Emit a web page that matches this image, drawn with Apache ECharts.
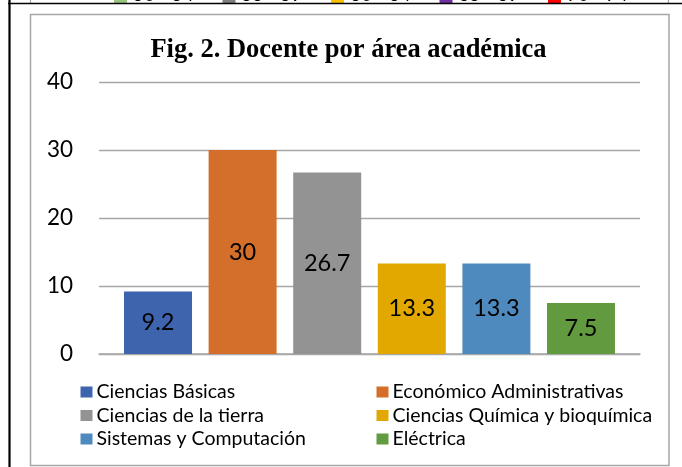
<!DOCTYPE html>
<html>
<head>
<meta charset="utf-8">
<script src="https://cdn.jsdelivr.net/npm/echarts@6/dist/echarts.min.js"></script>
<style>html,body{margin:0;padding:0;background:#fff;}#c{width:682px;height:467px;}</style>
</head>
<body>
<div id="c"></div>
<script>
// ---- data ----
const categories = ['Ciencias Básicas', 'Económico Administrativas', 'Ciencias de la tierra', 'Ciencias Química y bioquímica', 'Sistemas y Computación', 'Eléctrica'];
const values = [9.2, 30, 26.7, 13.3, 13.3, 7.5];
const yTicks = [0, 10, 20, 30, 40];
const titleText = 'Fig. 2. Docente por área académica';
// remnant of the previous figure's legend (cut off at the top)
const topLegendLabels = ['50 - 54', '55 - 59', '60 - 64', '65 - 69', '70 - 74'];

// ---- styles ----
const colors = ['#3E64AE', '#D46F2B', '#939393', '#E2A800', '#4F8ABE', '#629A3F'];
const topLegendColors = ['#9BC57E', '#7F7F7F', '#FFC000', '#7030A0', '#FF0000'];
const FONT = 'Lato, Carlito, "Open Sans", sans-serif';

const chart = echarts.init(document.getElementById('c'), null, {renderer: 'canvas'});

const series = categories.map((name, i) => ({
  name: name,
  type: 'bar',
  data: [values[i]],
  barWidth: 68,
  barGap: '24.4%',
  itemStyle: {color: colors[i]},
  label: {
    show: true,
    position: 'inside',
    color: '#000',
    fontFamily: FONT,
    fontSize: 23.5
  }
}));

const graphics = [
  // chart frame
  {type: 'rect', z: 0, shape: {x: 30.5, y: 14.5, width: 638.5, height: 451}, style: {fill: 'none', stroke: '#A6A6A6', lineWidth: 1.5}},
  // outer black borders
  {type: 'line', z: 10, shape: {x1: 9.5, y1: 0, x2: 9.5, y2: 467}, style: {stroke: '#000', lineWidth: 2.2}},
  {type: 'line', z: 10, shape: {x1: 8, y1: 3.5, x2: 682, y2: 3.5}, style: {stroke: '#000', lineWidth: 1.6}},
  {type: 'line', z: 5, shape: {x1: 30.5, y1: 0, x2: 30.5, y2: 3}, style: {stroke: '#A6A6A6', lineWidth: 1.2}},
  {type: 'line', z: 5, shape: {x1: 668.5, y1: 0, x2: 668.5, y2: 3}, style: {stroke: '#A6A6A6', lineWidth: 1.2}},
  // title
  {type: 'text', z: 5, style: {text: titleText, x: 348.5, y: 50, align: 'center', verticalAlign: 'middle',
    font: 'bold 26.5px "Liberation Serif", "Times New Roman", serif', fill: '#000'}}
];
topLegendLabels.forEach((t, i) => {
  const x0 = 114 + i * 108.5;
  graphics.push({type: 'rect', z: 4, shape: {x: x0, y: -8, width: 13, height: 11}, style: {fill: topLegendColors[i]}});
  graphics.push({type: 'text', z: 4, style: {text: t, x: x0 + 19, y: 4.5, align: 'left', verticalAlign: 'bottom',
    font: '19px ' + FONT, fill: '#000'}});
});

const legendCommon = {
  orient: 'vertical',
  icon: 'rect',
  padding: 0,
  itemWidth: 12,
  itemHeight: 11,
  itemGap: 2.5,
  selectedMode: false,
  textStyle: {fontFamily: FONT, fontSize: 19.5, lineHeight: 21, color: '#000', padding: [0, 0, 0, -1]}
};

chart.setOption({
  backgroundColor: '#fff',
  animation: false,
  color: colors,
  grid: {left: 99, top: 82, width: 541, height: 272, containLabel: false},
  xAxis: {
    type: 'category',
    data: [''],
    axisLine: {show: true, lineStyle: {color: '#A6A6A6', width: 1.5}},
    axisTick: {show: false},
    axisLabel: {show: false}
  },
  yAxis: {
    type: 'value',
    min: yTicks[0],
    max: yTicks[yTicks.length - 1],
    interval: 10,
    axisLine: {show: false},
    axisTick: {show: false},
    splitLine: {lineStyle: {color: '#A6A6A6', width: 1.3}},
    axisLabel: {fontFamily: FONT, fontSize: 22.5, color: '#000', margin: 26}
  },
  legend: [
    Object.assign({}, legendCommon, {left: 80.5, top: 381.5, data: [categories[0], categories[2], categories[4]]}),
    Object.assign({}, legendCommon, {left: 376.5, top: 381.5, data: [categories[1], categories[3], categories[5]]})
  ],
  graphic: graphics,
  series: series
});
</script>
</body>
</html>
